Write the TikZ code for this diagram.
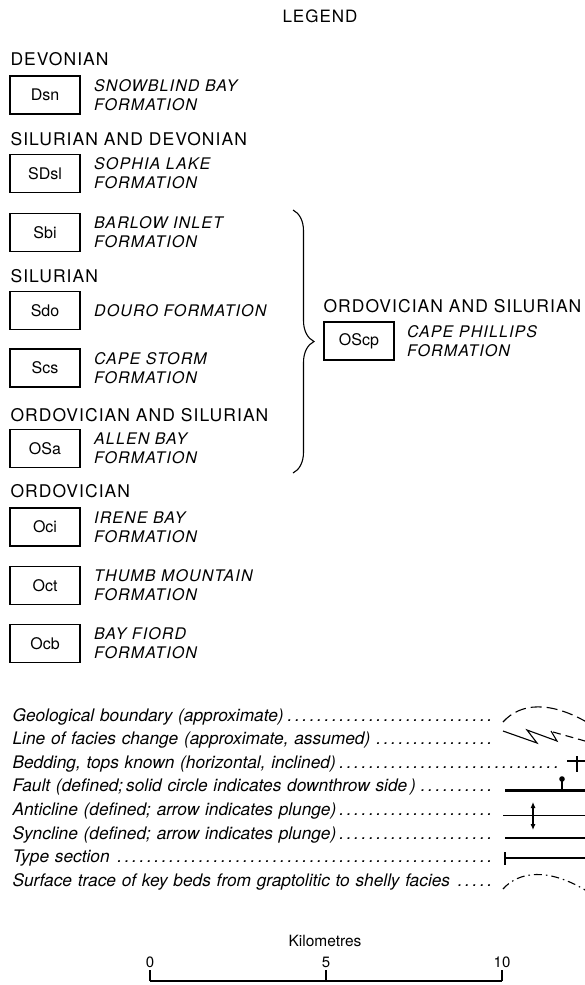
\documentclass[tikz,border=0pt]{standalone}
\usepackage{fontspec}
\setmainfont{TeX Gyre Heros}
\newfontfamily\agefont[LetterSpace=6]{TeX Gyre Heros}
\newfontfamily\fmfont[LetterSpace=7]{TeX Gyre Heros}
\usetikzlibrary{arrows.meta,positioning,decorations.pathreplacing}
\newcommand\dotlead{\leaders\hbox to 7.4pt{\hss.\hss}\hfill\mbox{}}

\begin{document}
\begin{tikzpicture}[
    x=1pt, y=-1pt,
    line width=1.1pt,
    age/.style={anchor=base west, inner sep=0pt, font=\agefont\fontsize{17.5}{19}\selectfont},
    unit/.style={draw, line width=1.3pt, minimum width=70pt, minimum height=38pt, inner sep=0pt, font=\fontsize{16}{18}\selectfont},
    fm/.style={anchor=west, inner sep=0pt, align=left, font=\fmfont\itshape\fontsize{16}{19}\selectfont},
    key/.style={anchor=base west, inner sep=0pt, font=\itshape\fontsize{17.3}{20}\selectfont},
    sym/.style={line width=1.1pt}
  ]
    \useasboundingbox (0,0) rectangle (585,985);

    \node[anchor=base, inner sep=0pt, font=\agefont\fontsize{17}{19}\selectfont] (title) at (320,23) {LEGEND};

    % formations, left column
    \node[age] (dev) at (10,65) {DEVONIAN};
    \node[unit] (dsn) at (45,95) {Dsn};
    \node[fm, right=13pt of dsn] {SNOWBLIND BAY\\FORMATION};

    \node[age] (sildev) at (10,145) {SILURIAN AND DEVONIAN};
    \node[unit] (sdsl) at (45,173.5) {SDsl};
    \node[fm, right=13pt of sdsl] {SOPHIA LAKE\\FORMATION};

    \node[unit] (sbi) at (45,232.5) {Sbi};
    \node[fm, right=13pt of sbi] {BARLOW INLET\\FORMATION};

    \node[age] (sil) at (10,282) {SILURIAN};
    \node[unit] (sdo) at (45,310.5) {Sdo};
    \node[fm, right=13pt of sdo] {DOURO FORMATION};

    \node[unit] (scs) at (45,368) {Scs};
    \node[fm, right=13pt of scs] {CAPE STORM\\FORMATION};

    \node[age] (ordsil) at (10,421) {ORDOVICIAN AND SILURIAN};
    \node[unit] (osa) at (45,448.5) {OSa};
    \node[fm, right=13pt of osa] {ALLEN BAY\\FORMATION};

    \node[age] (ord) at (10,497) {ORDOVICIAN};
    \node[unit] (oci) at (45,527) {Oci};
    \node[fm, right=13pt of oci] {IRENE BAY\\FORMATION};

    \node[unit] (oct) at (45,585.5) {Oct};
    \node[fm, right=13pt of oct] {THUMB MOUNTAIN\\FORMATION};

    \node[unit] (ocb) at (45,643.5) {Ocb};
    \node[fm, right=13pt of ocb] {BAY FIORD\\FORMATION};

    % brace and basinal equivalent
    \coordinate (btop) at (293,210);
    \coordinate (bbot) at (293,473);
    \draw[decorate, decoration={brace, amplitude=21pt}] (btop) -- (bbot);

    \node[age] (ordsil2) at (323,312) {ORDOVICIAN AND SILURIAN};
    \node[unit] (oscp) at (359,341) {OScp};
    \node[fm, right=12pt of oscp] {CAPE PHILLIPS\\FORMATION};

    % map symbols
    \node[key, text width=488pt] (geo) at (12,721) {Geological boundary (approximate)\dotlead};
    \node[key, text width=485pt] (fac) at (12,744.6) {Line of facies change (approximate, assumed)\dotlead};
    \node[key, text width=550pt] (bed) at (12,768.2) {Bedding, tops known (horizontal, inclined)\dotlead};
    \node[key, text width=487pt] (flt) at (12,791.8) {Fault (defined;\,solid circle indicates downthrow side\,)\dotlead};
    \node[key, text width=482pt] (ant) at (12,815.4) {Anticline (defined; arrow indicates plunge)\dotlead};
    \node[key, text width=482pt] (syn) at (12,839) {Syncline (defined; arrow indicates plunge)\dotlead};
    \node[key, text width=487pt] (typ) at (12,862.6) {Type section\dotlead};
    \node[key, text width=487pt] (trc) at (12,886.2) {Surface trace of key beds from graptolitic to shelly facies\dotlead};

    \draw[sym, dash pattern=on 11pt off 5pt] (503,722) .. controls (520,703) and (550,700) .. (590,724);
    \draw[sym] (503,731) -- (537,743) -- (527,730) -- (557,741) -- (551,731);
    \draw[sym, dash pattern=on 8pt off 5pt] (553,732) -- (585,741);
    \draw[sym] (567,761) -- (585,761) (577,756) -- (577,772);
    \draw[line width=3pt] (505,790) -- (585,790);
    \draw[sym] (562,790) -- (562,780);
    \fill (562,779) circle (2.8pt);
    \draw[line width=0.9pt] (503,815) -- (585,815);
    \draw[sym, {Latex[length=6pt,width=5pt]}-{Latex[length=6pt,width=5pt]}] (533,802) -- (533,830);
    \draw[line width=1.4pt] (505,838) -- (585,838);
    \draw[sym] (505,858) -- (585,858);
    \draw[line width=1.5pt] (505,852) -- (505,865);
    \draw[sym, dash pattern=on 8pt off 4pt on 1.5pt off 4pt] (503,889) .. controls (518,872) and (548,866) .. (590,893);

    % scale bar
    \coordinate (km0) at (150,981);
    \coordinate (km5) at (326,981);
    \coordinate (km10) at (502,981);
    \node[anchor=base, inner sep=0pt, font=\fontsize{15.5}{17}\selectfont] (kmlabel) at (325,946) {Kilometres};
    \draw[line width=1.5pt] (km0) -- (km10);
    \draw[line width=1.5pt] (km0) -- ++(0,-11) (km5) -- ++(0,-11) (km10) -- ++(0,-11);
    \node[anchor=base, inner sep=0pt, font=\fontsize{15}{17}\selectfont] at (150,967) {0};
    \node[anchor=base, inner sep=0pt, font=\fontsize{15}{17}\selectfont] at (326,967) {5};
    \node[anchor=base, inner sep=0pt, font=\fontsize{15}{17}\selectfont] at (502,967) {10};
\end{tikzpicture}
\end{document}
